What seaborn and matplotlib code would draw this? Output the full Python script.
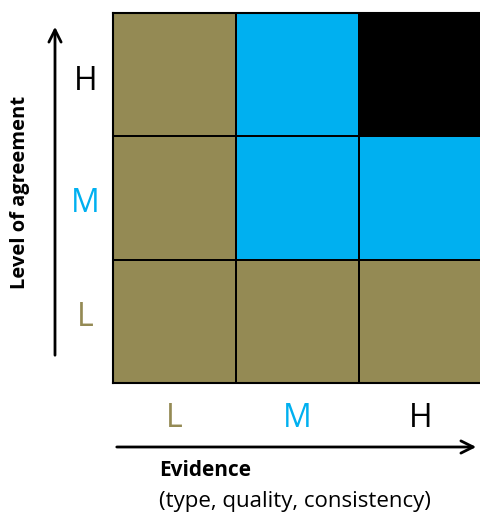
import matplotlib

matplotlib.use("Agg")
import matplotlib.pyplot as plt
import matplotlib.transforms as mtransforms
import numpy as np
import seaborn as sns
from matplotlib.colors import ListedColormap

# levels on both axes
evidence = ["L", "M", "H"]
agreement = ["H", "M", "L"]  # top to bottom
# 0 = olive, 1 = cyan, 2 = black
grid_codes = [
    [0, 1, 2],
    [0, 1, 1],
    [0, 0, 0],
]
level_colors = {"L": "#948A54", "M": "#00B0F0", "H": "#000000"}

W, H = 480, 514
sns.set_theme(style="white")
plt.rcParams["font.family"] = ["Open Sans", "DejaVu Sans"]

fig = plt.figure(figsize=(W / 100, H / 100), dpi=100)
ax = fig.add_axes([113 / W, 1 - 383 / H, 369 / W, 370 / H])

cmap = ListedColormap(["#948A54", "#00B0F0", "#000000"])
sns.heatmap(
    np.array(grid_codes),
    cmap=cmap,
    vmin=-0.5,
    vmax=2.5,
    cbar=False,
    linewidths=1.2,
    linecolor="black",
    xticklabels=evidence,
    yticklabels=agreement,
    ax=ax,
)
for side in ["left", "bottom", "top", "right"]:
    ax.spines[side].set_visible(True)
    ax.spines[side].set_color("black")
    ax.spines[side].set_linewidth(1.5)

ax.tick_params(axis="x", length=0, pad=14, labelsize=23)
ax.tick_params(axis="y", length=0, pad=20, labelsize=23, rotation=0)
# in the original the left labels sit a bit off the row centres
nudge = {"H": -7, "M": -6, "L": 4}
for lab in ax.get_yticklabels():
    lab.set_ha("center")
    off = mtransforms.ScaledTranslation(0, nudge[lab.get_text()] / 100, fig.dpi_scale_trans)
    lab.set_transform(lab.get_transform() + off)
for lab in ax.get_xticklabels() + ax.get_yticklabels():
    lab.set_color(level_colors[lab.get_text()])

# arrows
fig_px = dict(xycoords="figure pixels", textcoords="figure pixels")
ax.annotate("", xy=(55, H - 24), xytext=(55, H - 358),
            arrowprops=dict(arrowstyle="->", lw=2, color="black", mutation_scale=22), **fig_px)
ax.annotate("", xy=(479, H - 447), xytext=(114, H - 447),
            arrowprops=dict(arrowstyle="->", lw=2, color="black", mutation_scale=22), **fig_px)

fig.text(20 / W, 1 - 192 / H, "Level of agreement", rotation=90, ha="center", va="center",
         fontsize=14.5, fontweight="bold", color="black")
fig.text(159 / W, 1 - 471 / H, "Evidence", ha="left", va="center",
         fontsize=15, fontweight="bold", color="black")
fig.text(159 / W, 1 - 501 / H, "(type, quality, consistency)", ha="left", va="center",
         fontsize=16, color="black")

fig.savefig("out.png", dpi=100)
